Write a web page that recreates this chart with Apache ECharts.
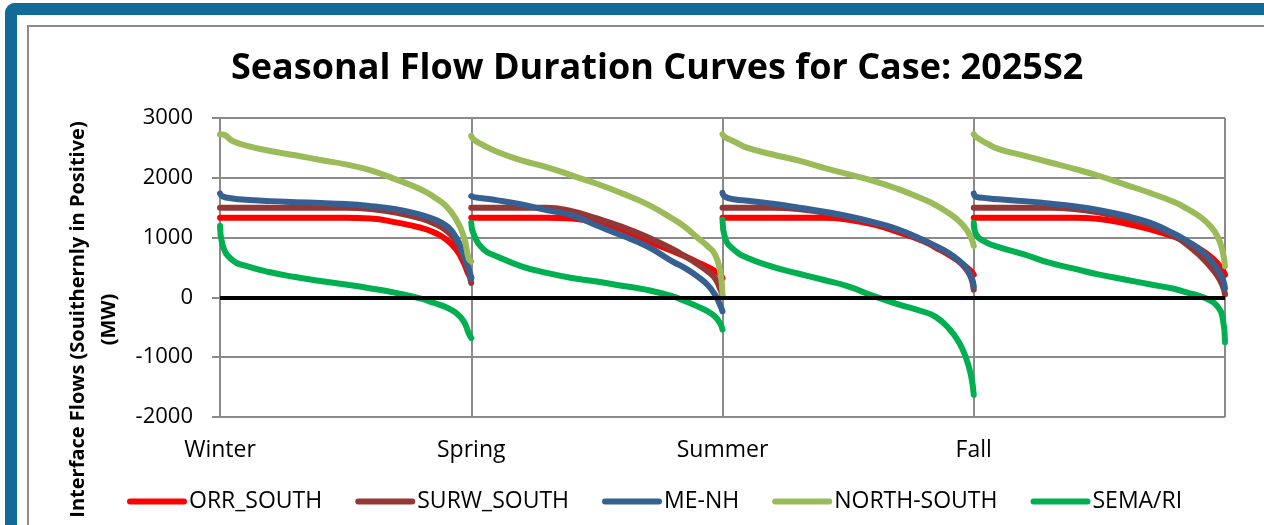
<!DOCTYPE html>
<html lang="en">
<head>
  <meta charset="UTF-8">
  <title>Seasonal Flow Duration Curves for Case: 2025S2</title>
  <script src="https://cdn.jsdelivr.net/npm/echarts@6/dist/echarts.min.js"></script>
  <style>
    body { margin: 0; background: #fff; }
    #frame {
      position: absolute; left: 5px; top: 3px; width: 1400px; height: 700px;
      border-left: 12px solid #116b99; border-top: 12px solid #116b99;
      border-top-left-radius: 10px;
    }
    #box {
      position: absolute; left: 27px; top: 25px; width: 1400px; height: 700px;
      border-left: 2px solid #8a8a8a; border-top: 2px solid #8a8a8a;
    }
    #main { position: absolute; left: 0; top: 0; width: 1264px; height: 525px; }
  </style>
</head>
<body>
  <div id="frame"></div>
  <div id="box"></div>
  <div id="main"></div>

  <script>
    // season labels on the category boundaries
    const seasons = ['Winter', 'Spring', 'Summer', 'Fall'];
    // percent of hours within each season (duration axis)
    const pct = [0, 1, 5, 10, 20, 30, 40, 50, 60, 70, 80, 85, 90, 94, 97, 99, 100];

    // flows in MW, one row per season: Winter, Spring, Summer, Fall
    const orrSouth = [
      [1330, 1330, 1330, 1330, 1330, 1330, 1330, 1330, 1320, 1255, 1165, 1090, 970, 800, 580, 380, 330],
      [1330, 1330, 1330, 1330, 1330, 1330, 1320, 1245, 1110, 945, 775, 690, 590, 510, 440, 380, 320],
      [1330, 1330, 1330, 1330, 1330, 1330, 1330, 1300, 1220, 1090, 940, 830, 715, 605, 510, 435, 380],
      [1330, 1330, 1330, 1330, 1330, 1330, 1330, 1310, 1240, 1140, 1010, 920, 810, 690, 570, 460, 380]
    ];
    const surwSouth = [
      [1500, 1500, 1500, 1500, 1500, 1500, 1500, 1500, 1480, 1420, 1320, 1240, 1120, 930, 650, 420, 240],
      [1500, 1500, 1500, 1500, 1500, 1500, 1440, 1320, 1180, 1010, 810, 690, 560, 440, 320, 150, 20],
      [1500, 1500, 1500, 1500, 1500, 1480, 1420, 1345, 1250, 1125, 950, 850, 735, 610, 470, 320, 130],
      [1500, 1500, 1500, 1500, 1500, 1500, 1480, 1420, 1330, 1210, 1020, 880, 700, 520, 360, 200, 50]
    ];
    const meNh = [
      [1738, 1690, 1655, 1633, 1610, 1593, 1577, 1560, 1526, 1476, 1380, 1310, 1200, 1000, 720, 480, 320],
      [1694, 1677, 1655, 1627, 1554, 1459, 1370, 1202, 1034, 855, 604, 492, 352, 212, 45, -123, -235],
      [1750, 1683, 1638, 1615, 1565, 1504, 1437, 1358, 1258, 1135, 956, 855, 743, 620, 492, 352, 184],
      [1740, 1680, 1660, 1640, 1610, 1570, 1525, 1460, 1370, 1250, 1060, 940, 800, 640, 470, 320, 150]
    ];
    const northSouth = [
      [2722, 2722, 2616, 2543, 2448, 2376, 2297, 2225, 2124, 1973, 1806, 1683, 1526, 1302, 1023, 650, 600],
      [2700, 2640, 2540, 2440, 2290, 2180, 2040, 1900, 1740, 1560, 1320, 1180, 1000, 860, 720, 450, 50],
      [2728, 2680, 2600, 2500, 2390, 2290, 2170, 2060, 1950, 1810, 1640, 1540, 1410, 1280, 1140, 990, 860],
      [2730, 2680, 2580, 2480, 2370, 2260, 2150, 2030, 1890, 1750, 1590, 1480, 1350, 1200, 1020, 780, 520]
    ];
    const semaRi = [
      [1200, 880, 620, 530, 420, 340, 275, 215, 150, 75, -20, -90, -165, -260, -400, -600, -680],
      [1250, 1050, 800, 690, 520, 410, 325, 265, 195, 125, 20, -60, -150, -230, -320, -430, -540],
      [1300, 1000, 780, 660, 510, 400, 295, 185, 25, -115, -240, -330, -515, -740, -1020, -1325, -1630],
      [1250, 1050, 920, 840, 720, 580, 480, 380, 300, 220, 140, 80, 20, -50, -150, -330, -750]
    ];

    const seriesNames = ['ORR_SOUTH', 'SURW_SOUTH', 'ME-NH', 'NORTH-SOUTH', 'SEMA/RI'];
    const seriesColors = ['#ff0000', '#953735', '#376092', '#9bbb59', '#00b050'];
    const seriesData = [orrSouth, surwSouth, meNh, northSouth, semaRi];

    // each season becomes one segment, broken from the next one
    function buildData(rows) {
      const out = [];
      rows.forEach((vals, s) => {
        if (s > 0) out.push([s * 100, '-']);
        vals.forEach((v, i) => out.push([s * 100 + pct[i], v]));
      });
      return out;
    }

    const font = 'Open Sans';
    const gridColor = '#8a8a8a';

    const series = seriesNames.map((name, k) => ({
      name: name,
      type: 'line',
      data: buildData(seriesData[k]),
      showSymbol: false,
      symbol: 'none',
      smooth: 0.5,
      connectNulls: false,
      itemStyle: { color: seriesColors[k] },
      lineStyle: { color: seriesColors[k], width: 6, cap: 'round', join: 'round' }
    }));

    // black zero line
    series[0].markLine = {
      silent: true,
      symbol: 'none',
      label: { show: false },
      lineStyle: { color: '#000', width: 4, type: 'solid' },
      data: [{ yAxis: 0 }]
    };

    var myChart = echarts.init(document.getElementById('main'));
    var option = {
      animation: false,
      title: {
        text: 'Seasonal Flow Duration Curves for Case: 2025S2',
        left: 226,
        top: 46,
        textStyle: { fontFamily: font, fontSize: 36, fontWeight: 'bold', color: '#000' }
      },
      grid: { left: 220, right: 39, top: 118, bottom: 108, containLabel: false },
      legend: {
        left: 127,
        top: 490,
        padding: 0,
        itemWidth: 54,
        itemHeight: 14,
        itemGap: 33,
        itemStyle: { color: 'rgba(0,0,0,0)', borderWidth: 0 },
        lineStyle: { width: 6, cap: 'round' },
        textStyle: { fontFamily: font, fontSize: 23, color: '#000' },
        data: seriesNames
      },
      xAxis: {
        type: 'value',
        min: 0,
        max: 400,
        interval: 100,
        axisLine: { show: false },
        axisTick: { show: false },
        splitLine: { show: true, lineStyle: { color: gridColor, width: 2 } },
        axisLabel: {
          margin: 22,
          fontFamily: font,
          fontSize: 23,
          color: '#000',
          formatter: function (v) { return seasons[v / 100] || ''; }
        }
      },
      yAxis: {
        type: 'value',
        min: -2000,
        max: 3000,
        interval: 1000,
        name: 'Interface Flows (Souithernly in Positive)\n(MW)',
        nameLocation: 'middle',
        nameRotate: 90,
        nameGap: 91,
        nameTextStyle: {
          fontFamily: font, fontSize: 20, fontWeight: 'bold', color: '#000',
          lineHeight: 31, padding: [0, 104, 0, 0]
        },
        axisLine: { show: false },
        axisTick: { show: true, length: 8, lineStyle: { color: gridColor, width: 2 } },
        splitLine: { show: true, lineStyle: { color: gridColor, width: 2 } },
        axisLabel: {
          margin: 27, fontFamily: font, fontSize: 22, color: '#000',
          formatter: function (v) { return String(v); }
        }
      },
      series: series
    };

    myChart.setOption(option);
  </script>
</body>
</html>
